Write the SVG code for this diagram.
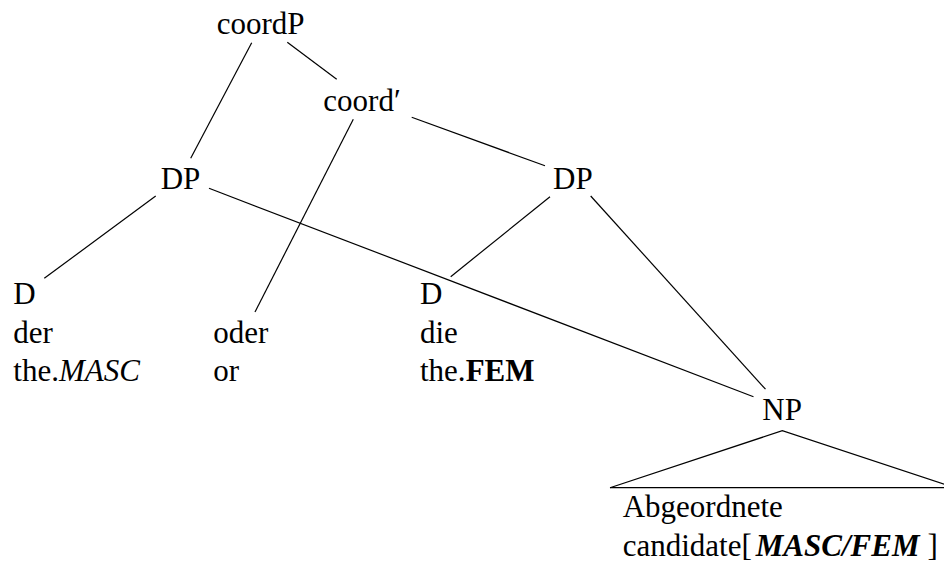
<svg xmlns="http://www.w3.org/2000/svg" width="944" height="561" viewBox="0 0 944 561">
<style>
text { font-family: "Liberation Serif", "Times New Roman", serif; font-size: 31px; fill: #000; }
.it { font-style: italic; }
.bf { font-weight: bold; }
.bi { font-weight: bold; font-style: italic; }
line, polyline { stroke: #000; stroke-width: 1.2; fill: none; }
</style>
<rect width="944" height="561" fill="#fff"/>
<g id="connectors">
<line x1="251.7" y1="42.7" x2="190.7" y2="158.3"/>
<line x1="287.3" y1="42.3" x2="336.7" y2="79.3"/>
<line x1="353.3" y1="119.3" x2="255" y2="312"/>
<line x1="411.7" y1="117.3" x2="545" y2="165.7"/>
<line x1="155.7" y1="196" x2="44.3" y2="278.3"/>
<line x1="209" y1="188.3" x2="753.5" y2="396.7"/>
<line x1="550" y1="196.7" x2="450.7" y2="276.7"/>
<line x1="590.7" y1="196" x2="765.5" y2="389.2"/>
<polyline points="610,487.7 782.3,430.7 955,487.7"/>
<line x1="610" y1="487.7" x2="955" y2="487.7"/>
</g>
<g id="coordP"><text x="216.7" y="33.5">coordP</text></g>
<g id="coordBar"><text x="323.3" y="110.5">coord′</text></g>
<g id="DP1"><text x="160.7" y="188.5">DP</text></g>
<g id="DP2"><text x="553" y="188.5">DP</text></g>
<g id="D1">
<text x="13.3" y="303.5">D</text>
<text x="13.3" y="342.5">der</text>
<text x="13.3" y="380.5">the.<tspan class="it">MASC</tspan></text>
</g>
<g id="oder">
<text x="213.3" y="342.5">oder</text>
<text x="213.3" y="380.5">or</text>
</g>
<g id="D2">
<text x="420" y="303.5">D</text>
<text x="420" y="342.5">die</text>
<text x="420" y="380.5">the.<tspan class="bf">FEM</tspan></text>
</g>
<g id="NP"><text x="762.3" y="419.5">NP</text></g>
<g id="NPleaf">
<text x="622.7" y="517">Abgeordnete</text>
<text x="622.7" y="555.5">candidate[<tspan class="bi" dx="4">MASC/FEM</tspan><tspan dx="8">]</tspan></text>
</g>
</svg>
